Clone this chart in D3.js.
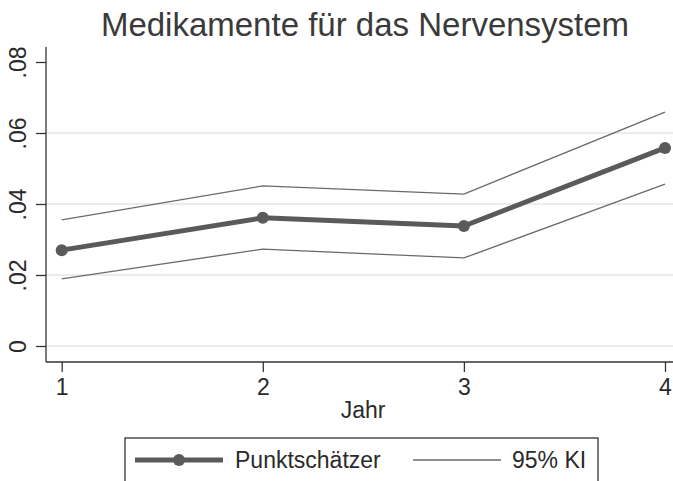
<!DOCTYPE html>
<html>
<head>
<meta charset="utf-8">
<script src="https://cdn.jsdelivr.net/npm/d3@7"></script>
<style>
  body { margin: 0; background: #fff; }
  svg { display: block; font-family: "Liberation Sans", Arial, sans-serif; }
</style>
</head>
<body>
<div id="vis"></div>
<script>
const FRAME_WIDTH = 673;
const FRAME_HEIGHT = 481;
const MARGINS = {left: 46, right: 3, top: 47, bottom: 119};

// data
const years = [1, 2, 3, 4];
const estimate = [0.0270, 0.0361, 0.0338, 0.0558];
const ciUpper = [0.0355, 0.0451, 0.0428, 0.0659];
const ciLower = [0.0189, 0.0273, 0.0248, 0.0456];
const yTicks = [0, 0.02, 0.04, 0.06, 0.08];
const yTickLabels = ["0", ".02", ".04", ".06", ".08"];

const FRAME = d3.select("#vis")
    .append("svg")
    .attr("width", FRAME_WIDTH)
    .attr("height", FRAME_HEIGHT);

const X_SCALE = d3.scaleLinear().domain([1, 4]).range([61.7, 665]);
const Y_SCALE = d3.scaleLinear().domain([0, 0.08]).range([346, 62]);

const axisBottomY = 362;

// gridlines (not at top tick)
FRAME.append("g")
    .selectAll("line")
    .data(yTicks.slice(0, 4))
    .enter()
    .append("line")
    .attr("x1", MARGINS.left)
    .attr("x2", FRAME_WIDTH)
    .attr("y1", (d) => Y_SCALE(d))
    .attr("y2", (d) => Y_SCALE(d))
    .attr("stroke", "#e6e6e6")
    .attr("stroke-width", 1.5);

// y axis
const yAxis = FRAME.append("g")
    .attr("transform", "translate(" + MARGINS.left + ",0)")
    .call(d3.axisLeft(Y_SCALE).tickValues(yTicks)
        .tickFormat((d, i) => yTickLabels[i]).tickSize(10).tickSizeOuter(0));
yAxis.select(".domain").remove();
yAxis.selectAll(".tick line").attr("stroke", "#333").attr("stroke-width", 1.3);
yAxis.selectAll(".tick text")
    .attr("font-size", "23px")
    .attr("fill", "#2a2a2a")
    .attr("x", null).attr("dy", null)
    .attr("text-anchor", "middle")
    .attr("transform", "translate(-20,0) rotate(-90)");
FRAME.append("line")
    .attr("x1", MARGINS.left).attr("x2", MARGINS.left)
    .attr("y1", MARGINS.top).attr("y2", axisBottomY)
    .attr("stroke", "#333").attr("stroke-width", 1.3);

// x axis
const xAxis = FRAME.append("g")
    .attr("transform", "translate(0," + axisBottomY + ")")
    .call(d3.axisBottom(X_SCALE).tickValues(years).tickFormat(d3.format("d"))
        .tickSize(10).tickSizeOuter(0));
xAxis.select(".domain").remove();
xAxis.selectAll(".tick line").attr("stroke", "#333").attr("stroke-width", 1.3);
xAxis.selectAll(".tick text")
    .attr("font-size", "23px")
    .attr("fill", "#2a2a2a")
    .attr("y", 33).attr("dy", null);
FRAME.append("line")
    .attr("x1", MARGINS.left).attr("x2", FRAME_WIDTH)
    .attr("y1", axisBottomY).attr("y2", axisBottomY)
    .attr("stroke", "#333").attr("stroke-width", 1.3);

// CI lines
const line = d3.line()
    .x((d, i) => X_SCALE(years[i]))
    .y((d) => Y_SCALE(d));

[ciUpper, ciLower].forEach((series) => {
    FRAME.append("path")
        .datum(series)
        .attr("d", line)
        .attr("fill", "none")
        .attr("stroke", "#6a6a6a")
        .attr("stroke-width", 1.3);
});

// point estimate
FRAME.append("path")
    .datum(estimate)
    .attr("d", line)
    .attr("fill", "none")
    .attr("stroke", "#5a5a5a")
    .attr("stroke-width", 5)
    .attr("stroke-linejoin", "round");

FRAME.append("g")
    .selectAll("circle")
    .data(estimate)
    .enter()
    .append("circle")
    .attr("cx", (d, i) => X_SCALE(years[i]))
    .attr("cy", (d) => Y_SCALE(d))
    .attr("r", 6)
    .attr("fill", "#5a5a5a");

// title
FRAME.append("text")
    .attr("x", 365)
    .attr("y", 36)
    .attr("text-anchor", "middle")
    .attr("font-size", "33px")
    .attr("fill", "#3a3a3a")
    .text("Medikamente für das Nervensystem");

// x title
FRAME.append("text")
    .attr("x", 363)
    .attr("y", 418)
    .attr("text-anchor", "middle")
    .attr("font-size", "23px")
    .attr("fill", "#2a2a2a")
    .text("Jahr");

// legend
const legend = FRAME.append("g");
legend.append("rect")
    .attr("x", 125).attr("y", 438)
    .attr("width", 473).attr("height", 80)
    .attr("fill", "#fff")
    .attr("stroke", "#333").attr("stroke-width", 1.3);
legend.append("line")
    .attr("x1", 135).attr("x2", 223)
    .attr("y1", 460).attr("y2", 460)
    .attr("stroke", "#5a5a5a").attr("stroke-width", 5);
legend.append("circle")
    .attr("cx", 179).attr("cy", 460).attr("r", 6)
    .attr("fill", "#5a5a5a");
legend.append("text")
    .attr("x", 235).attr("y", 468)
    .attr("font-size", "23px").attr("fill", "#2a2a2a")
    .text("Punktschätzer");
legend.append("line")
    .attr("x1", 413).attr("x2", 501)
    .attr("y1", 460).attr("y2", 460)
    .attr("stroke", "#6a6a6a").attr("stroke-width", 1.3);
legend.append("text")
    .attr("x", 512).attr("y", 468)
    .attr("font-size", "23px").attr("fill", "#2a2a2a")
    .text("95% KI");
</script>
</body>
</html>
